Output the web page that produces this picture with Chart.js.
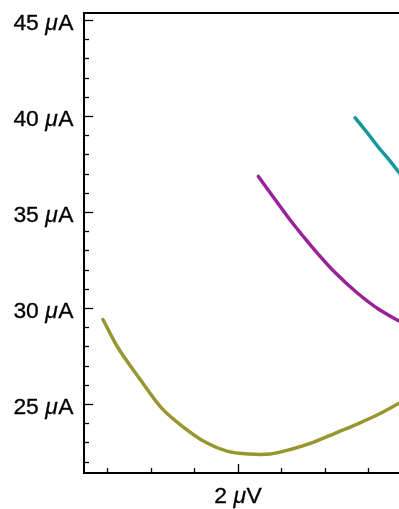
<!DOCTYPE html>
<html>
<head>
<meta charset="utf-8">
<script src="https://cdn.jsdelivr.net/npm/chart.js@4.4.1/dist/chart.umd.min.js"></script>
<style>
    html, body { margin: 0; padding: 0; background: #fff; }
    #wrap { width: 399px; height: 509px; position: relative; }
</style>
</head>
<body>
<div id="wrap"><canvas id="ivChart"></canvas></div>
<script>
// Curve data (x in µV, y in µA)
const oliveX = [1.38, 1.45, 1.55, 1.65, 1.75, 1.85, 1.95, 2.05, 2.15, 2.25, 2.35, 2.45, 2.55, 2.65, 2.75];
const oliveY = [29.4, 27.92, 26.3, 24.79, 23.8, 23.02, 22.55, 22.4, 22.4, 22.66, 23.02, 23.49, 23.96, 24.48, 25.1];

const magentaX = [2.095, 2.15, 2.25, 2.35, 2.45, 2.55, 2.65, 2.75];
const magentaY = [36.85, 35.99, 34.45, 33.07, 31.82, 30.78, 29.92, 29.27];

const tealX = [2.54, 2.6, 2.65, 2.7, 2.75];
const tealY = [39.9, 39.06, 38.33, 37.66, 36.93];

// Axis ticks
const yMajorTicks = [25, 30, 35, 40, 45];
const yMinorTicks = [22, 23, 24, 26, 27, 28, 29, 31, 32, 33, 34, 36, 37, 38, 39, 41, 42, 43, 44];
const yTickLabels = ['25', '30', '35', '40', '45'];
const xMajorTicks = [2];
const xMinorTicks = [1.4, 1.6, 1.8, 2.2, 2.4, 2.6];
const xTickLabels = ['2'];

function toPoints(xs, ys) {
    return xs.map((x, i) => ({ x: x, y: ys[i] }));
}

// draw "45 µA" with an italic µ
function drawUnitLabel(ctx, num, unit, x, y, align) {
    const size = 22;
    const stretch = 1.04;
    const normal = size + 'px "Liberation Sans", Arial, sans-serif';
    const italic = 'italic ' + normal;
    ctx.font = normal;
    const wNum = ctx.measureText(num + ' ').width;
    const wUnit = ctx.measureText(unit).width;
    ctx.font = italic;
    const wMu = ctx.measureText('\u03bc').width;
    const total = (wNum + wMu + wUnit) * stretch;

    let start = x;
    if (align === 'right') start = x - total;
    if (align === 'center') start = x - total / 2;

    ctx.save();
    ctx.translate(start, y);
    ctx.scale(stretch, 1);
    ctx.fillStyle = '#000';
    ctx.strokeStyle = '#000';
    ctx.lineWidth = 0.3;
    ctx.textBaseline = 'alphabetic';
    ctx.textAlign = 'left';
    ctx.font = normal;
    ctx.fillText(num + ' ', 0, 0);
    ctx.strokeText(num + ' ', 0, 0);
    ctx.font = italic;
    ctx.fillText('\u03bc', wNum, 0);
    ctx.strokeText('\u03bc', wNum, 0);
    ctx.font = normal;
    ctx.fillText(unit, wNum + wMu + 0.5, 0);
    ctx.strokeText(unit, wNum + wMu + 0.5, 0);
    ctx.restore();
}

// Inward ticks + labels, Mathematica style
const frameTicks = {
    id: 'frameTicks',
    afterDraw(chart) {
        const ctx = chart.ctx;
        const xs = chart.scales.x;
        const ys = chart.scales.y;
        const area = chart.chartArea;

        ctx.save();
        ctx.strokeStyle = '#000';
        ctx.lineWidth = 1.3;

        yMajorTicks.concat(yMinorTicks).forEach(v => {
            const py = Math.round(ys.getPixelForValue(v)) + 0.5;
            const len = yMajorTicks.includes(v) ? 9 : 5;
            ctx.beginPath();
            ctx.moveTo(area.left, py);
            ctx.lineTo(area.left + len, py);
            ctx.stroke();
        });

        xMajorTicks.concat(xMinorTicks).forEach(v => {
            const px = Math.round(xs.getPixelForValue(v)) + 0.5;
            const len = xMajorTicks.includes(v) ? 9 : 5;
            ctx.beginPath();
            ctx.moveTo(px, area.bottom);
            ctx.lineTo(px, area.bottom - len);
            ctx.stroke();
        });
        ctx.restore();

        yMajorTicks.forEach((v, i) => {
            const py = ys.getPixelForValue(v);
            drawUnitLabel(ctx, yTickLabels[i], 'A', area.left - 11, py + 10, 'right');
        });

        xMajorTicks.forEach((v, i) => {
            const px = xs.getPixelForValue(v);
            drawUnitLabel(ctx, xTickLabels[i], 'V', px, area.bottom + 30, 'center');
        });
    }
};

document.addEventListener('DOMContentLoaded', function () {
    const ctx = document.getElementById('ivChart');

    new Chart(ctx, {
        type: 'scatter',
        data: {
            datasets: [
                { data: toPoints(oliveX, oliveY), borderColor: '#979730' },
                { data: toPoints(magentaX, magentaY), borderColor: '#982398' },
                { data: toPoints(tealX, tealY), borderColor: '#149898' }
            ].map(ds => Object.assign(ds, {
                showLine: true,
                borderWidth: 3.5,
                pointRadius: 0,
                tension: 0.3,
                borderCapStyle: 'round',
                borderJoinStyle: 'round'
            }))
        },
        options: {
            responsive: true,
            maintainAspectRatio: false,
            animation: false,
            layout: { padding: 0 },
            plugins: {
                legend: { display: false },
                tooltip: { enabled: false }
            },
            scales: {
                x: {
                    type: 'linear',
                    min: 1.293,
                    max: 2.7416,
                    grid: { display: false },
                    ticks: { display: false },
                    border: { display: true, color: '#000', width: 2 },
                    afterFit: s => { s.height = 36; }
                },
                x2: {
                    type: 'linear',
                    position: 'top',
                    grid: { display: false },
                    ticks: { display: false },
                    border: { display: true, color: '#000', width: 2 },
                    afterFit: s => { s.height = 13; }
                },
                y: {
                    type: 'linear',
                    min: 21.41,
                    max: 45.36,
                    grid: { display: false },
                    ticks: { display: false },
                    border: { display: true, color: '#000', width: 2 },
                    afterFit: s => { s.width = 84; }
                }
            }
        },
        plugins: [frameTicks]
    });
});
</script>
</body>
</html>
